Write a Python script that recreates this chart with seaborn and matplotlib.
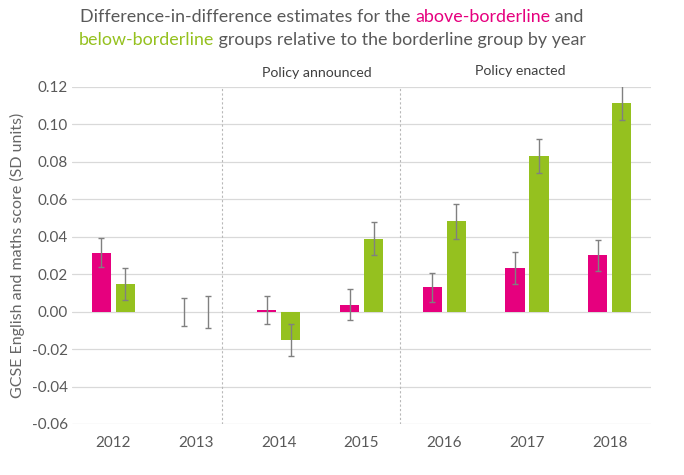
import matplotlib
matplotlib.use("Agg")
import matplotlib.pyplot as plt
import seaborn as sns
import pandas as pd
import numpy as np

years = ["2012", "2013", "2014", "2015", "2016", "2017", "2018"]
above = [0.0315, 0.0, 0.0008, 0.0038, 0.013, 0.0233, 0.030]
below = [0.0148, 0.0, -0.0151, 0.0389, 0.0482, 0.0832, 0.1116]
above_err = [0.0076, 0.0075, 0.0076, 0.0085, 0.0079, 0.0085, 0.0083]
below_err = [0.0085, 0.0085, 0.0087, 0.0088, 0.0092, 0.0092, 0.0092]
groups = ["Above-borderline", "Below-borderline"]

PINK = "#E6007E"
GREEN = "#95C11F"
GREY = "#595959"

sns.set_theme(style="white")
plt.rcParams["font.family"] = ["Lato", "DejaVu Sans"]

df = pd.DataFrame({
    "year": years * 2,
    "value": above + below,
    "group": [groups[0]] * len(years) + [groups[1]] * len(years),
})

fig = plt.figure(figsize=(6.84, 4.75), dpi=100)
ax = fig.add_axes([0.1053, 0.1074, 0.8465, 0.7095])

sns.barplot(data=df, x="year", y="value", hue="group", order=years,
            hue_order=groups, palette=[PINK, GREEN], width=0.58, gap=0.2,
            saturation=1, linewidth=0, errorbar=None, legend=False, ax=ax)

xs = np.arange(len(years))
off = 0.145
ax.errorbar(xs - off, above, yerr=above_err, fmt="none", ecolor="#808080",
            elinewidth=1.0, capsize=2.5, capthick=1.0, zorder=5)
ax.errorbar(xs + off, below, yerr=below_err, fmt="none", ecolor="#808080",
            elinewidth=1.0, capsize=2.5, capthick=1.0, zorder=5)

ax.set_xlim(-0.5, 6.5)
ax.set_ylim(-0.06, 0.12)
yt = [-0.06, -0.04, -0.02, 0.0, 0.02, 0.04, 0.06, 0.08, 0.10, 0.12]
ax.set_yticks(yt)
ax.set_yticklabels([f"{v:.2f}" for v in yt])
ax.yaxis.grid(True, color="#d9d9d9", linewidth=0.9)
ax.set_axisbelow(True)
for s in ax.spines.values():
    s.set_visible(False)
ax.tick_params(axis="both", length=0, labelsize=11, labelcolor=GREY)
ax.tick_params(axis="x", pad=9)
ax.tick_params(axis="y", pad=3)
ax.set_xlabel("")
ax.set_ylabel("GCSE English and maths score (SD units)", fontsize=11.5,
              color="#666666", labelpad=5)

for xv in (1.31, 3.46):
    ax.axvline(xv, ymin=0, ymax=1, color="#b8b8b8", linestyle=(0, (2, 2)),
               linewidth=0.8, zorder=1)

ax.text(2.46, 0.1275, "Policy announced", ha="center", va="center",
        fontsize=10.2, color="#404040")
ax.text(4.92, 0.1285, "Policy enacted", ha="center", va="center",
        fontsize=10.2, color="#404040")

# Multi-coloured two-line title
fs = 12.9
lines = [
    [("Difference-in-difference estimates for the ", GREY),
     ("above-borderline", PINK), (" and", GREY)],
    [("below-borderline", GREEN),
     (" groups relative to the borderline group by year", GREY)],
]
ys_px = [17, 40]
cx_px = 332
fig.canvas.draw()
renderer = fig.canvas.get_renderer()
W, H = fig.get_size_inches() * fig.dpi
for parts, ypx in zip(lines, ys_px):
    texts = []
    widths = []
    for s, c in parts:
        t = fig.text(0, 0, s, fontsize=fs, color=c, ha="left", va="center")
        bb = t.get_window_extent(renderer)
        texts.append(t)
        widths.append(bb.width)
    total = sum(widths)
    x = cx_px - total / 2
    for t, w in zip(texts, widths):
        t.set_position((x / W, 1 - ypx / H))
        x += w

fig.savefig("out.png", dpi=100)
